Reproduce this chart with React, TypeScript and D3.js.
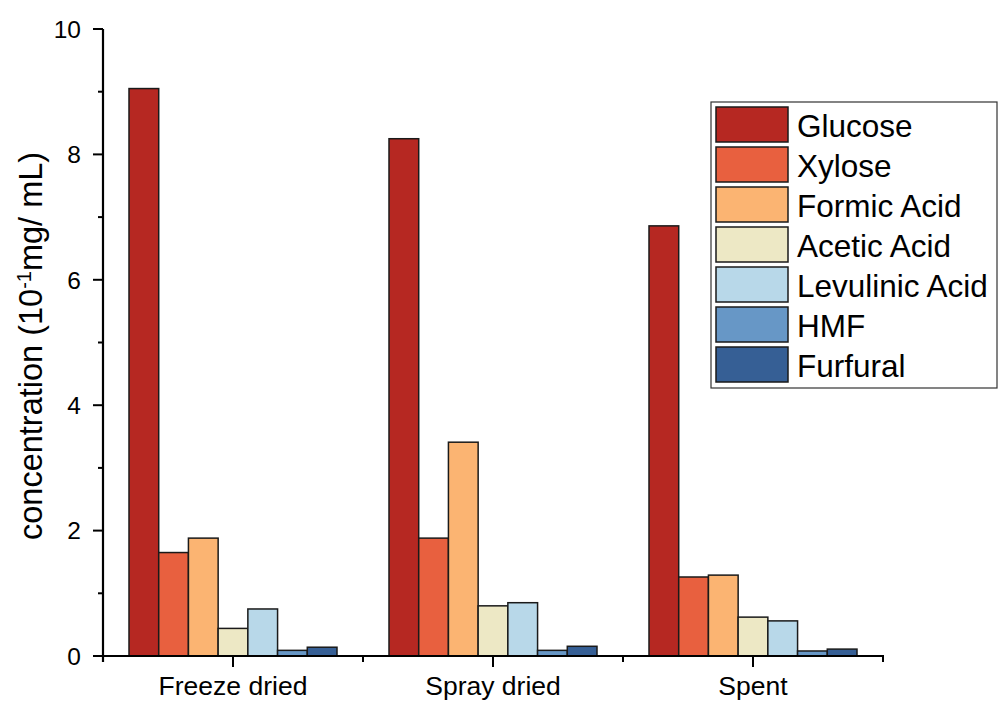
import React from "react";
import * as d3 from "d3";

const categories = ["Freeze dried", "Spray dried", "Spent"];
const seriesNames = ["Glucose", "Xylose", "Formic Acid", "Acetic Acid", "Levulinic Acid", "HMF", "Furfural"];
const seriesColors = ["#B62822", "#E8603F", "#FBB472", "#EDE8C5", "#B8D8E9", "#6797C6", "#365F95"];
const glucose = [9.05, 8.25, 6.86];
const xylose = [1.65, 1.88, 1.26];
const formicAcid = [1.88, 3.41, 1.29];
const aceticAcid = [0.44, 0.80, 0.62];
const levulinicAcid = [0.75, 0.85, 0.56];
const hmf = [0.09, 0.09, 0.08];
const furfural = [0.14, 0.155, 0.11];
const seriesValues = [glucose, xylose, formicAcid, aceticAcid, levulinicAcid, hmf, furfural];
const yMajorTicks = [0, 2, 4, 6, 8, 10];
const yMinorTicks = [1, 3, 5, 7, 9];

const W = 998;
const H = 702;
const FONT = "'Liberation Sans', Arial, sans-serif";

export default function App() {
  const left = 103, right = 883, top = 29, bottom = 656;
  const x = d3.scaleBand<string>().domain(categories).range([left, right]).paddingInner(0).paddingOuter(0);
  const bw = x.bandwidth();
  const xs = d3.scaleBand<string>().domain(seriesNames).range([bw * 0.1, bw * 0.9]).padding(0);
  const y = d3.scaleLinear().domain([0, 10]).range([bottom, top]);
  const boundaries = [left, ...categories.map((c) => (x(c) as number) + bw)];

  const legX = 711, legY = 102, legW = 286, legH = 286;
  const rowH = 40;

  return (
    <svg width={W} height={H} style={{ position: "absolute", left: 0, top: 0, background: "#fff" }} fontFamily={FONT}>
      <rect x={0} y={0} width={W} height={H} fill="#fff" />
      {/* bars */}
      {categories.map((c, ci) =>
        seriesNames.map((s, si) => {
          const v = seriesValues[si][ci];
          const bx = (x(c) as number) + (xs(s) as number);
          return (
            <rect
              key={c + s}
              x={bx}
              y={y(v)}
              width={xs.bandwidth()}
              height={y(0) - y(v)}
              fill={seriesColors[si]}
              stroke="#1a1a1a"
              strokeWidth={1.5}
            />
          );
        })
      )}
      {/* y axis */}
      <line x1={left} x2={left} y1={top} y2={bottom + 6} stroke="#000" strokeWidth={2.2} />
      {yMajorTicks.map((t) => (
        <g key={"ym" + t}>
          <line x1={left - 10} x2={left} y1={y(t)} y2={y(t)} stroke="#000" strokeWidth={2} />
          <text x={81} y={y(t)} dy="0.36em" textAnchor="end" fontSize={24.5} fill="#000">
            {t}
          </text>
        </g>
      ))}
      {yMinorTicks.map((t) => (
        <line key={"yn" + t} x1={left - 5} x2={left} y1={y(t)} y2={y(t)} stroke="#000" strokeWidth={2} />
      ))}
      <text
        transform={`translate(42, 540) rotate(-90)`}
        textAnchor="start"
        fontSize={32.5}
        fill="#000"
      >
        concentration (10<tspan baselineShift="super" fontSize={20}>-1</tspan>mg/ mL)
      </text>
      {/* x axis */}
      <line x1={left - 1} x2={right + 1} y1={bottom} y2={bottom} stroke="#000" strokeWidth={2.2} />
      {boundaries.map((b, i) => (
        <line key={"xb" + i} x1={b} x2={b} y1={bottom} y2={bottom + 6} stroke="#000" strokeWidth={2} />
      ))}
      {categories.map((c) => {
        const cx = (x(c) as number) + bw / 2;
        return (
          <g key={"xc" + c}>
            <line x1={cx} x2={cx} y1={bottom} y2={bottom + 11} stroke="#000" strokeWidth={2} />
            <text x={cx} y={695} textAnchor="middle" fontSize={26.5} fill="#000">
              {c}
            </text>
          </g>
        );
      })}
      {/* legend */}
      <rect x={legX} y={legY} width={legW} height={legH} fill="#fff" stroke="#333" strokeWidth={1.2} />
      {seriesNames.map((s, i) => (
        <g key={"lg" + s}>
          <rect x={716} y={107 + i * rowH} width={72} height={35} fill={seriesColors[i]} stroke="#1a1a1a" strokeWidth={1.5} />
          <text x={797} y={107 + i * rowH + 30} fontSize={31.5} fill="#000">
            {s}
          </text>
        </g>
      ))}
    </svg>
  );
}
